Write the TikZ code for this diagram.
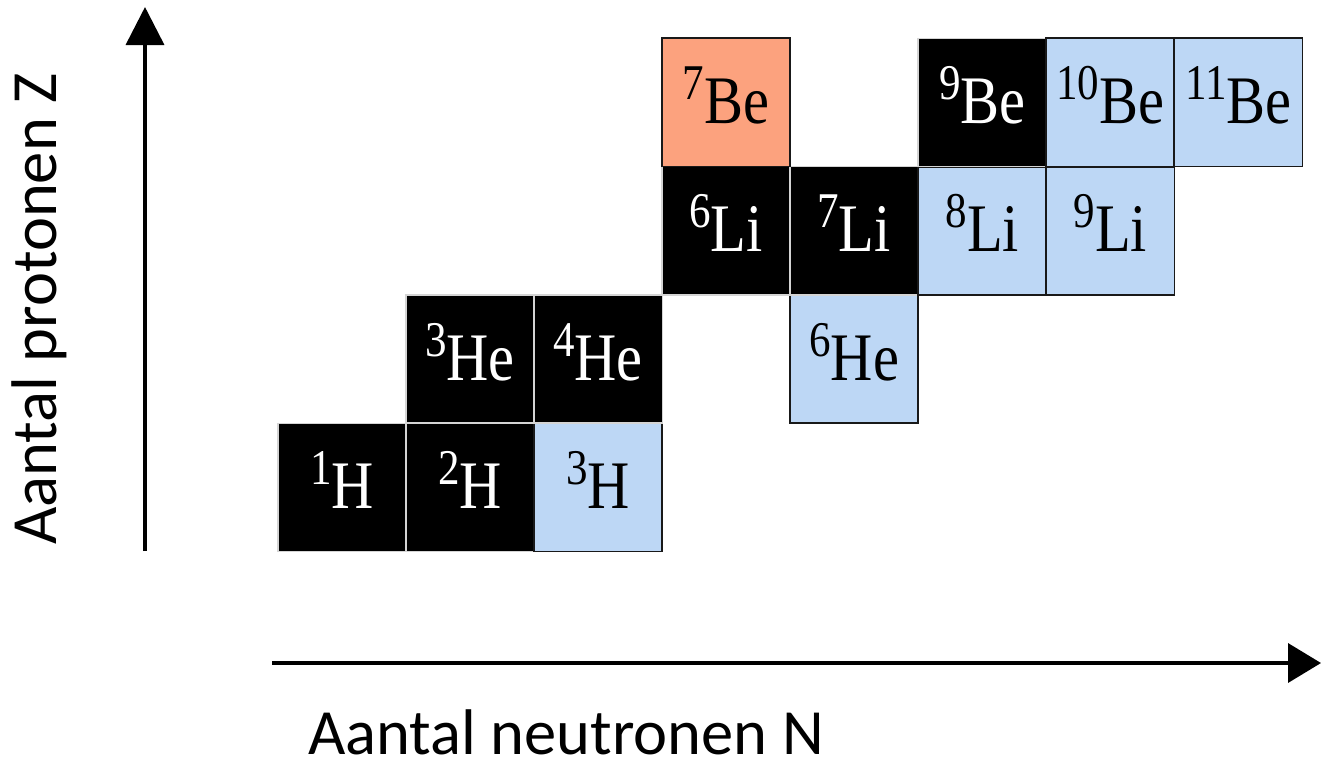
\documentclass[tikz,border=0pt]{standalone}
\usepackage{fontspec}
\setmainfont{Liberation Serif}
\newfontfamily\axisfont{Carlito}
\usetikzlibrary{arrows.meta}

\definecolor{stableiso}{HTML}{000000}
\definecolor{betaiso}{HTML}{BDD7F5}
\definecolor{ecaiso}{HTML}{FCA27E}
\definecolor{stablerule}{HTML}{D4D4D4}

\tikzset{
  cellbase/.style={rectangle, minimum width=128.2pt, minimum height=128.2pt,
    inner sep=0pt, outer sep=0pt},
  stablecell/.style={cellbase, fill=stableiso, draw=stablerule, line width=1.4pt},
  betacell/.style={cellbase, fill=betaiso, draw=black!90, line width=1.8pt},
  eccell/.style={cellbase, fill=ecaiso, draw=black!90, line width=1.8pt},
  isolabel/.style={anchor=base, inner sep=0pt,
    font=\fontsize{68}{68}\selectfont},
  axisline/.style={line width=3.6pt},
  axislabel/.style={font=\axisfont\fontsize{64.5}{64.5}\selectfont,
    inner sep=0pt, text depth=0pt}
}

% mass number raised in front of the symbol, squeezed a little horizontally
\newcommand{\isotxt}[2]{\scalebox{0.86}[1]{\raisebox{24pt}{\fontsize{50}{50}\selectfont #1}#2}}

% \isotope{name}{column}{row}{cell style}{text colour}{mass}{symbol}
\newcommand{\isotope}[7]{%
  \node[#4] (#1) at ({278+128.05*#2+64}, {551.5-128.3*#3-64.15}) {};
  \node[isolabel, text=#5] (#1-t) at ([yshift=-21pt]#1.center) {\isotxt{#6}{#7}};
}

\begin{document}
\begin{tikzpicture}[x=1pt, y=-1pt]
  \useasboundingbox (0,0) rectangle (1321,761);

  % hydrogen
  \isotope{h1}{0}{0}{stablecell}{white}{1}{H}
  \isotope{h2}{1}{0}{stablecell}{white}{2}{H}
  \isotope{h3}{2}{0}{betacell}{black}{3}{H}
  % helium
  \isotope{he3}{1}{1}{stablecell}{white}{3}{He}
  \isotope{he4}{2}{1}{stablecell}{white}{4}{He}
  \isotope{he6}{4}{1}{betacell}{black}{6}{He}
  % lithium
  \isotope{li6}{3}{2}{stablecell}{white}{6}{Li}
  \isotope{li7}{4}{2}{stablecell}{white}{7}{Li}
  \isotope{li8}{5}{2}{betacell}{black}{8}{Li}
  \isotope{li9}{6}{2}{betacell}{black}{9}{Li}
  % beryllium
  \isotope{be7}{3}{3}{eccell}{black}{7}{Be}
  \isotope{be9}{5}{3}{stablecell}{white}{9}{Be}
  \isotope{be10}{6}{3}{betacell}{black}{10}{Be}
  \isotope{be11}{7}{3}{betacell}{black}{11}{Be}

  % axes
  \coordinate (zfoot) at (145,551);
  \coordinate (ztip) at (145,7);
  \coordinate (nfoot) at (272,663);
  \coordinate (ntip) at (1321,663);
  \draw[axisline, -{Triangle[length=38pt, width=38pt]}] (zfoot) -- (ztip);
  \draw[axisline, -{Triangle[length=33pt, width=39pt]}] (nfoot) -- (ntip);

  \node[axislabel, anchor=base west, rotate=90] (zlabel) at (56,545) {Aantal protonen Z};
  \node[axislabel, anchor=base west] (nlabel) at (308,754) {Aantal neutronen N};
\end{tikzpicture}
\end{document}
